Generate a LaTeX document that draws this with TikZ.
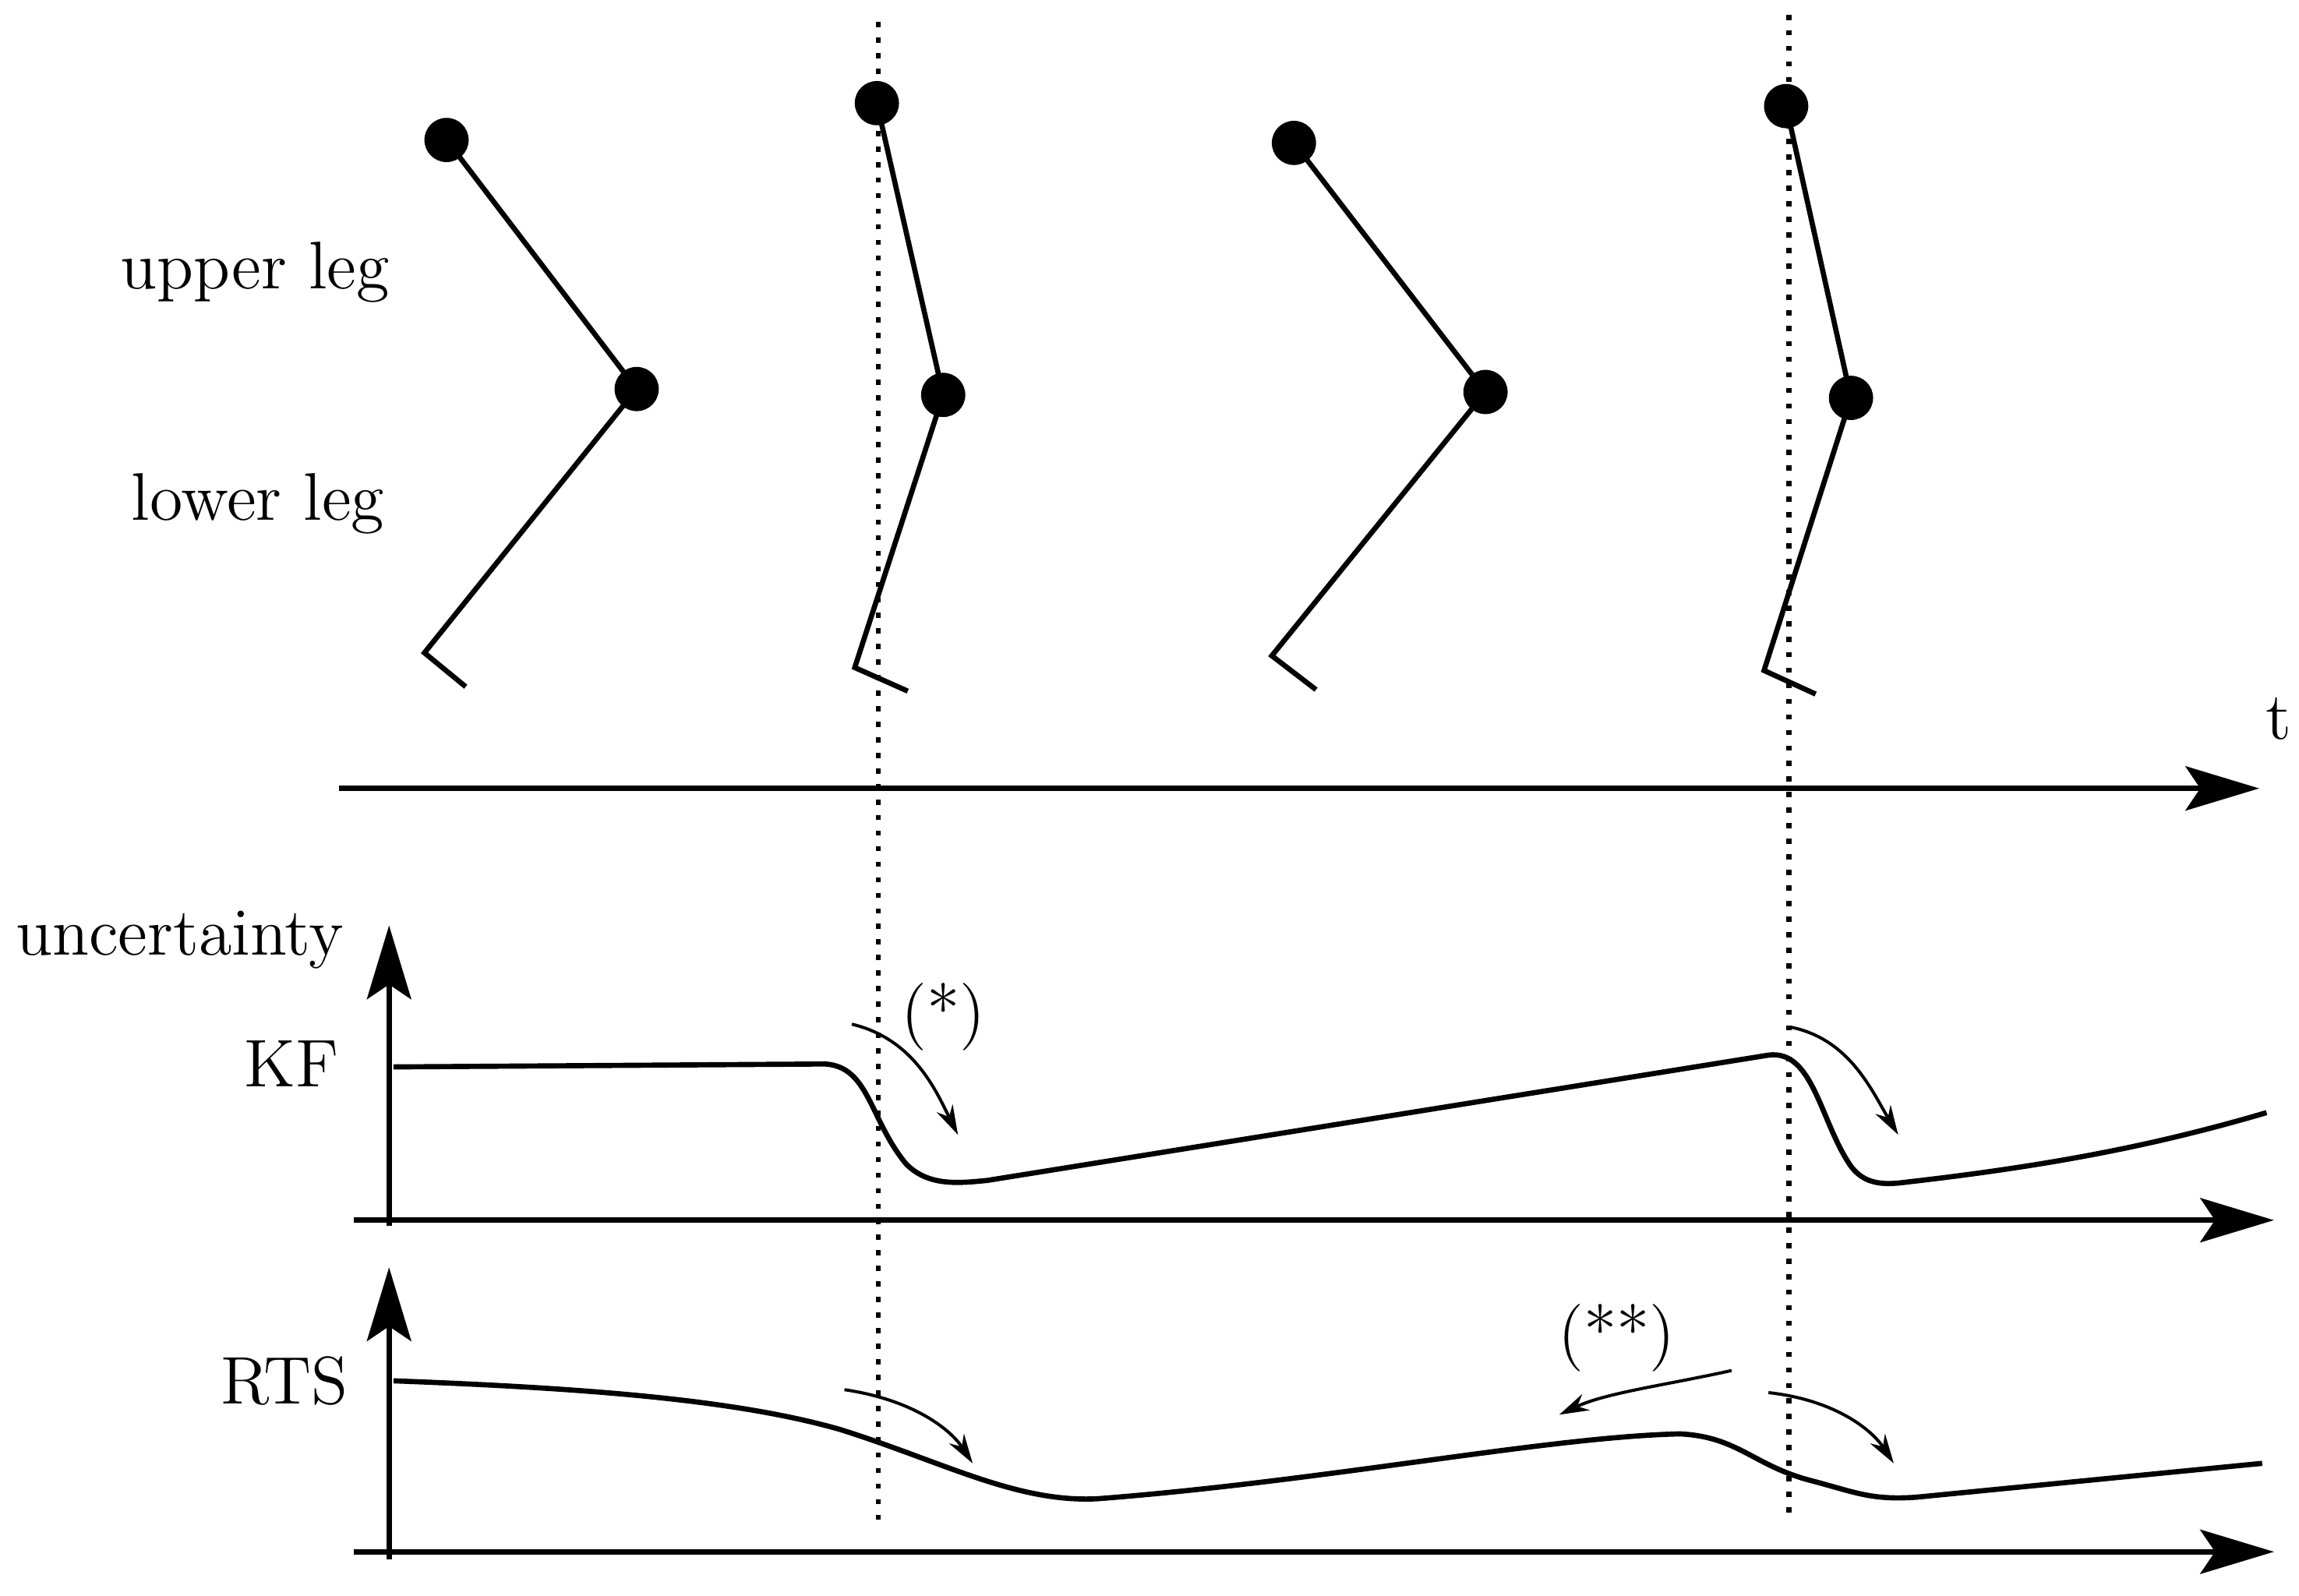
\documentclass[tikz,border=0pt]{standalone}
\usetikzlibrary{arrows.meta}
\begin{document}
\begin{tikzpicture}[x=0.01cm,y=-0.01cm,
  seg/.style={line width=1pt},
  jnt/.style={circle,fill=black,inner sep=0pt,minimum size=0.3cm},
  axis/.style={line width=1pt,-{Stealth[length=0.5cm,width=0.3cm,inset=0.1cm]}},
  vline/.style={line width=1pt,dotted},
  small/.style={line width=0.6pt,-{Stealth[length=0.2cm,width=0.12cm]}},
  lbl/.style={font=\fontsize{13}{15}\selectfont}]
\useasboundingbox (0,0) rectangle (1560,1083);
% legs
\foreach \n/\hx/\hy/\kx/\ky/\ax/\ay/\fx/\fy in {a/303/95/432/264/288/443/316/466, b/595/70/640/268/580/453/616/469, c/878/97/1008/266/863/445/893/468, d/1212/72/1256/270/1197/455/1232/471}{
  \node[jnt] (h\n) at (\hx,\hy) {};
  \node[jnt] (k\n) at (\kx,\ky) {};
  \coordinate (a\n) at (\ax,\ay);
  \coordinate (f\n) at (\fx,\fy);
  \draw[seg] (h\n.center) -- (k\n.center) -- (a\n) -- (f\n);
}
\draw[vline] (596,15) -- (596,1033);
\draw[vline] (1214,10) -- (1214,1030);
\node[lbl] (ul) at (173,185) {upper leg};
\node[lbl] (ll) at (175,342) {lower leg};
\coordinate (t0) at (230,535); \coordinate (t1) at (1533,535);
\draw[axis] (t0) -- (t1);
\node[lbl] (tl) at (1546,488) {t};
\node[lbl] (un) at (122,638) {uncertainty};
\node[lbl] (kf) at (198,722) {KF};
\node[lbl] (rts) at (193,937) {RTS};
\draw[axis] (264,832) -- (264,628);
\draw[axis] (240,828) -- (1543,828);
\draw[axis] (264,1058) -- (264,860);
\draw[axis] (240,1053) -- (1543,1053);
% KF curve
\draw[seg] (267,724) -- (560,722) .. controls (590,724) and (590,760) .. (615,790)
  .. controls (630,805) and (650,803) .. (670,801) -- (1200,716)
  .. controls (1230,712) and (1235,760) .. (1255,790)
  .. controls (1265,805) and (1280,804) .. (1295,802) .. controls (1400,790) and (1470,775) .. (1538,755);
% RTS curve
\draw[seg] (267,937) .. controls (400,942) and (500,950) .. (570,970)
  .. controls (640,992) and (690,1020) .. (745,1017)
  .. controls (900,1005) and (1050,975) .. (1140,973)
  .. controls (1180,975) and (1190,995) .. (1230,1005)
  .. controls (1260,1013) and (1270,1018) .. (1300,1016) -- (1535,993);
% small arrows
\draw[small] (578,695) .. controls (620,705) and (635,740) .. (650,770);
\node[lbl] (s1) at (640,690) {(*)};
\draw[small] (1215,697) .. controls (1255,705) and (1270,740) .. (1288,770);
\draw[small] (573,943) .. controls (620,950) and (645,970) .. (660,993);
\draw[small] (1200,945) .. controls (1245,950) and (1270,970) .. (1285,993);
\draw[small] (1175,930) .. controls (1130,940) and (1090,945) .. (1058,960);
\node[lbl] (s2) at (1097,908) {(**)};
\end{tikzpicture}
\end{document}
